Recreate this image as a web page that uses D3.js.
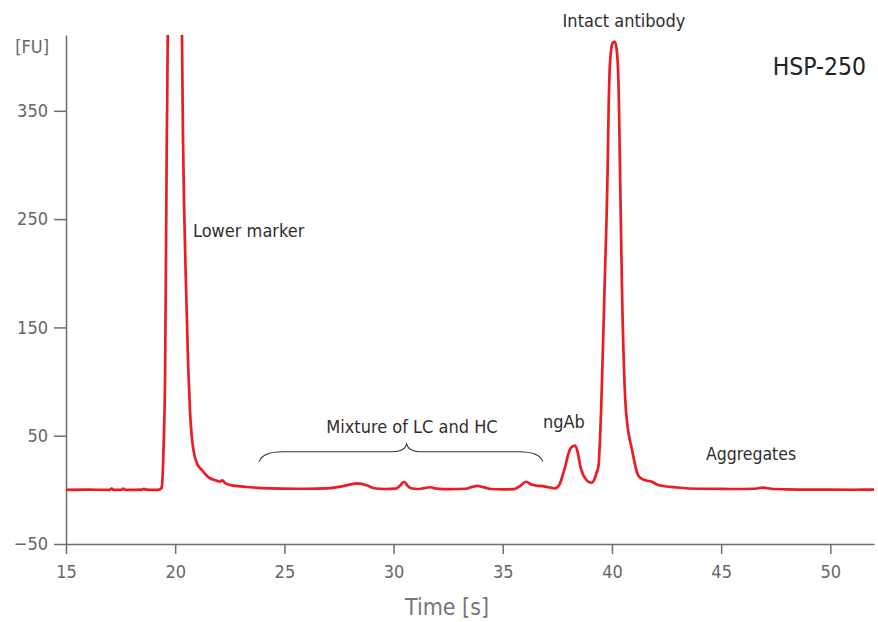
<!DOCTYPE html>
<html><head><meta charset="utf-8">
<script src="https://cdn.jsdelivr.net/npm/d3@7"></script>
<style>
body{margin:0;background:#fff}
svg text{font-family:"Liberation Sans Narrow","Arial Narrow","DejaVu Sans Condensed","Roboto",sans-serif}
</style>
</head><body>
<svg id="c" width="878" height="622"></svg>
<script>
// ---- data (time in s, fluorescence in FU) ----
const times = [15,16,17.0,17.09,17.18,17.55,17.62,17.7,18.5,18.57,18.65,19.2,19.31,19.38,19.47,19.54,19.61,19.66,19.72,19.85,20.0,20.15,20.26,20.31,20.37,20.48,20.60,20.68,20.76,20.87,20.99,21.22,21.40,21.60,21.85,22.05,22.16,22.28,22.51,23.0,23.43,24.35,25.5,26.5,27.2,27.7,28.32,28.8,29.1,29.6,30.1,30.3,30.48,30.65,30.8,31.1,31.4,31.67,31.95,32.6,33.3,33.6,33.86,34.1,34.45,35.0,35.5,35.75,36.07,36.3,36.5,36.71,36.94,37.2,37.4,37.6,37.75,37.86,38.0,38.15,38.32,38.45,38.55,38.65,38.8,38.95,39.08,39.2,39.3,39.38,39.45,39.51,39.66,39.80,39.85,39.90,39.97,40.04,40.12,40.20,40.26,40.30,40.33,40.37,40.46,40.61,40.72,40.83,40.94,41.05,41.15,41.25,41.5,41.83,42.12,43.0,44.04,45.5,46.5,46.9,47.3,48,49,50,51,52];
const signal = [0,0.2,0,1.2,0,0.2,1.2,0,0.3,0.9,0.2,0,0.5,2,40,111,309,421,650,900,1000,900,650,421,309,200,111,72,49,33,24.8,18.3,14,10.7,8.8,7.7,8.8,6.3,4.5,3.2,2.4,1.4,1.0,1.2,1.8,3.5,6.0,4.0,1.5,0.8,1.2,4,7.5,3.5,1.5,0.8,1.6,2.4,1.2,0.7,1.0,2.8,3.6,2.5,0.8,0.4,0.6,3,7.5,5,4,3.6,3.0,2.0,1.3,5,14,21.4,33,39.5,40.8,33,22,15.3,10,7,6.6,10,16,21.4,45,77,185,294,355,390,407,413,414,409,396,375,345,294,185,83,58,45,35,24,16,12,9,7.5,4.5,2.2,1.0,0.8,1.0,2.0,1.0,0.5,0.2,0.2,0.1,0.2];
const xTicks = [15,20,25,30,35,40,45,50];
const yTicks = [350,250,150,50,-50];
const yTickLabels = ["350","250","150","50","\u221250"];
const xDomain = [15,52];
const yDomain = [-50,420];

// ---- layout ----
const L=66,R=874,T=35,B=544;
const red="#ec1c24", axisCol="#6e6e6e", tickTxt="#666666", annTxt="#2e2e2e";
const FONT='"Liberation Sans Narrow","Arial Narrow","DejaVu Sans Condensed",Roboto,sans-serif';

const svg=d3.select("#c");
const x=d3.scaleLinear().domain(xDomain).range([L,R]);
const y=d3.scaleLinear().domain(yDomain).range([B,T]);

svg.append("defs").append("clipPath").attr("id","clip")
  .append("rect").attr("x",L).attr("y",T).attr("width",R-L).attr("height",B-T);

// axes
const yAxis=d3.axisLeft(y).tickValues(yTicks).tickSize(12).tickPadding(6).tickSizeOuter(0)
  .tickFormat((d,i)=>yTickLabels[i]);
const gy=svg.append("g").attr("transform",`translate(${L},0)`).call(yAxis);
const xAxis=d3.axisBottom(x).tickValues(xTicks).tickSize(10).tickPadding(11).tickSizeOuter(0);
const gx=svg.append("g").attr("transform",`translate(0,${B})`).call(xAxis);
[gx,gy].forEach(g=>{
  g.select(".domain").attr("stroke",axisCol).attr("stroke-width",1.5);
  g.selectAll(".tick line").attr("stroke",axisCol).attr("stroke-width",1.5);
  g.selectAll(".tick text").attr("fill",tickTxt).attr("font-size",18).style("font-family",FONT);
});

// unit label
svg.append("text").attr("x",49).attr("y",53).attr("text-anchor","end")
  .attr("fill",tickTxt).attr("font-size",18).text("[FU]");
// axis title
svg.append("text").attr("x",447).attr("y",615).attr("text-anchor","middle")
  .attr("fill","#777777").attr("font-size",23).text("Time [s]");

// trace
const pts=times.map((t,i)=>[t,signal[i]]);
const line=d3.line().x(d=>x(d[0])).y(d=>y(d[1])).curve(d3.curveMonotoneX);
svg.append("path").datum(pts).attr("clip-path","url(#clip)")
  .attr("d",line).attr("fill","none").attr("stroke",red).attr("stroke-width",2.7)
  .attr("stroke-linejoin","round");

// brace over LC/HC mixture
const bx0=x(23.85), bx1=x(36.83), bm=x(30.6);
const yEnd=y(26), yMid=y(35.2), yTip=y(42.3);
const brace=`M${bx0},${yEnd} Q${bx0+3},${yMid} ${bx0+24},${yMid} L${bm-14},${yMid} Q${bm-2},${yMid} ${bm},${yTip} Q${bm+2},${yMid} ${bm+14},${yMid} L${bx1-24},${yMid} Q${bx1-3},${yMid} ${bx1},${yEnd}`;
svg.append("path").attr("d",brace).attr("fill","none").attr("stroke","#333").attr("stroke-width",1.1);

// annotations
const ann=[
  {t:"Lower marker",x:193,y:237,a:"start",s:18,c:annTxt},
  {t:"Mixture of LC and HC",x:412,y:433,a:"middle",s:18,c:annTxt},
  {t:"ngAb",x:543,y:428,a:"start",s:18,c:annTxt},
  {t:"Intact antibody",x:624,y:27,a:"middle",s:18,c:annTxt},
  {t:"Aggregates",x:751,y:460,a:"middle",s:17.5,c:annTxt},
  {t:"HSP-250",x:866,y:75,a:"end",s:24.5,c:"#222"}
];
svg.selectAll("text.ann").data(ann).enter().append("text").attr("class","ann")
  .attr("x",d=>d.x).attr("y",d=>d.y).attr("text-anchor",d=>d.a)
  .attr("font-size",d=>d.s).attr("fill",d=>d.c).text(d=>d.t);
</script>
</body></html>
